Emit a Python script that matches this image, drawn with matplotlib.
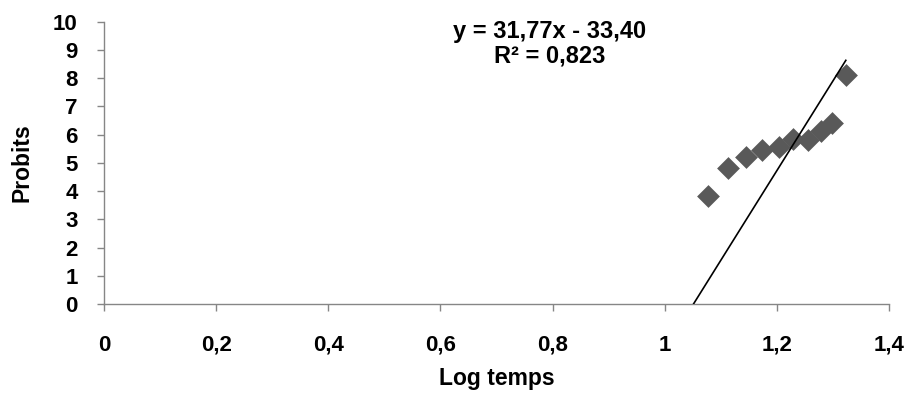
import matplotlib
matplotlib.use("Agg")
import matplotlib.pyplot as plt
from matplotlib.ticker import FuncFormatter
import numpy as np

plt.rcParams['font.family'] = ['Liberation Sans', 'DejaVu Sans']
plt.rcParams['font.weight'] = 'bold'

log_temps = [1.077, 1.113, 1.145, 1.174, 1.204, 1.229, 1.255, 1.279, 1.299, 1.323]
probits = [3.84, 4.81, 5.22, 5.45, 5.57, 5.83, 5.81, 6.14, 6.42, 8.11]
slope = 31.77
intercept = -33.40
r2 = 0.823
x_ticks = [0, 0.2, 0.4, 0.6, 0.8, 1.0, 1.2, 1.4]
y_ticks = list(range(0, 11))

fig = plt.figure(figsize=(9.11, 3.97), dpi=100)
ax = fig.add_axes([104/911, 1-304/397, (889-104)/911, (304-21.7)/397])

ax.scatter(log_temps, probits, marker='D', s=135, color='#595959', zorder=3, linewidths=0)

x0 = -intercept / slope
x1 = max(log_temps)
xs = np.array([x0, x1])
ax.plot(xs, slope * xs + intercept, color='black', lw=1.2, zorder=4)

ax.set_xlim(0, 1.4)
ax.set_ylim(0, 10)
ax.set_xticks(x_ticks)
ax.set_yticks(y_ticks)

def fmt(v, pos):
    s = ('%.1f' % v).rstrip('0').rstrip('.')
    return s.replace('.', ',')
ax.xaxis.set_major_formatter(FuncFormatter(fmt))

for s in ['top', 'right']:
    ax.spines[s].set_visible(False)
for s in ['left', 'bottom']:
    ax.spines[s].set_color('#868686')
    ax.spines[s].set_linewidth(1.0)
ax.tick_params(axis='both', colors='#868686', length=5, width=1.0, labelsize=16,
               labelcolor='black', direction='out')
ax.tick_params(axis='x', pad=17)
ax.tick_params(axis='y', pad=14)
for lbl in ax.get_xticklabels() + ax.get_yticklabels():
    lbl.set_fontweight('bold')

ax.set_xlabel('Log temps', fontsize=16.5, fontweight='bold', labelpad=8)
ax.set_ylabel('Probits', fontsize=16.5, fontweight='bold', labelpad=14)

eq = 'y = %sx - %s' % (('%.2f' % slope).replace('.', ','), ('%.2f' % -intercept).replace('.', ','))
ax.text(0.568, 0.922, eq + '\nR² = ' + ('%.3f' % r2).replace('.', ','),
        transform=ax.transAxes, ha='center', va='center', fontsize=17,
        fontweight='bold', linespacing=1.12)

fig.savefig('out.png', dpi=100)
